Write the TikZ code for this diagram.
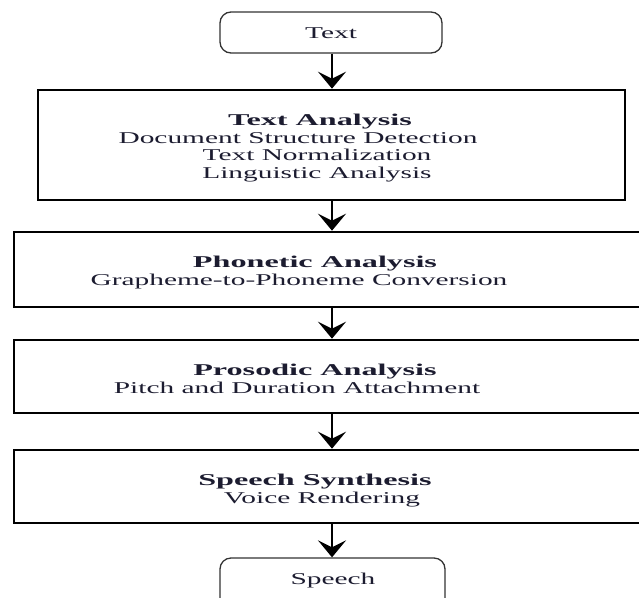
\documentclass[tikz,border=0pt]{standalone}
\usepackage{fontspec}
\setmainfont{Liberation Serif}[FakeStretch=1.78]
\newfontfamily\hdfont{Liberation Serif}[FakeStretch=1.95]
\usetikzlibrary{arrows.meta}
\definecolor{txt}{HTML}{1C1C30}
\begin{document}
\begin{tikzpicture}[x=1pt,y=-1pt,
  stage/.style={draw=black,line width=2.6pt,inner sep=0pt,fill=white},
  term/.style={draw=black!80,line width=1.3pt,rounded corners=11pt,inner sep=0pt},
  lbl/.style={anchor=base,inner sep=0pt,text=txt,font=\fontsize{16.5}{17.5}\selectfont},
  hd/.style={lbl,font=\hdfont\fontsize{16.5}{17.5}\selectfont\bfseries},
  arr/.style={line width=2.8pt,-{Stealth[length=17pt,width=28pt,inset=7pt]}}]
\useasboundingbox (0,0) rectangle (639,597);
\fill[white] (0,0) rectangle (639,597);
% boxes
\node[term,minimum width=222pt,minimum height=41pt] (text) at (331,32.5) {};
\node[stage,minimum width=587pt,minimum height=110pt] (ta) at (331.5,145) {};
\node[stage,minimum width=634pt,minimum height=75pt] (pa) at (331,269.5) {};
\node[stage,minimum width=634pt,minimum height=73pt] (pr) at (331,376.5) {};
\node[stage,minimum width=634pt,minimum height=73pt] (ss) at (331,486.5) {};
\node[term,minimum width=225pt,minimum height=60pt] (sp) at (332.5,588) {};
% labels
\node[lbl] (textl) at (331,38) {Text};
\node[hd] (tal1) at (320,125) {Text Analysis};
\node[lbl] (tal2) at (298,143) {Document Structure Detection};
\node[lbl] (tal3) at (317,160.5) {Text Normalization};
\node[lbl] (tal4) at (317,178) {Linguistic Analysis};
\node[hd] (pal1) at (315,267) {Phonetic Analysis};
\node[lbl] (pal2) at (299,285) {Grapheme-to-Phoneme Conversion};
\node[hd] (prl1) at (315,375) {Prosodic Analysis};
\node[lbl] (prl2) at (297,393) {Pitch and Duration Attachment};
\node[hd] (ssl1) at (315,485) {Speech Synthesis};
\node[lbl] (ssl2) at (322,503) {Voice Rendering};
\node[lbl] (spl) at (333,584) {Speech};
% connectors
\coordinate (ax) at (332,0);
\draw[arr] (text.south -| ax) -- (ta.north -| ax);
\draw[arr] (ta.south -| ax) -- (pa.north -| ax);
\draw[arr] (pa.south -| ax) -- (pr.north -| ax);
\draw[arr] (pr.south -| ax) -- (ss.north -| ax);
\draw[arr] (ss.south -| ax) -- (sp.north -| ax);
\end{tikzpicture}
\end{document}
